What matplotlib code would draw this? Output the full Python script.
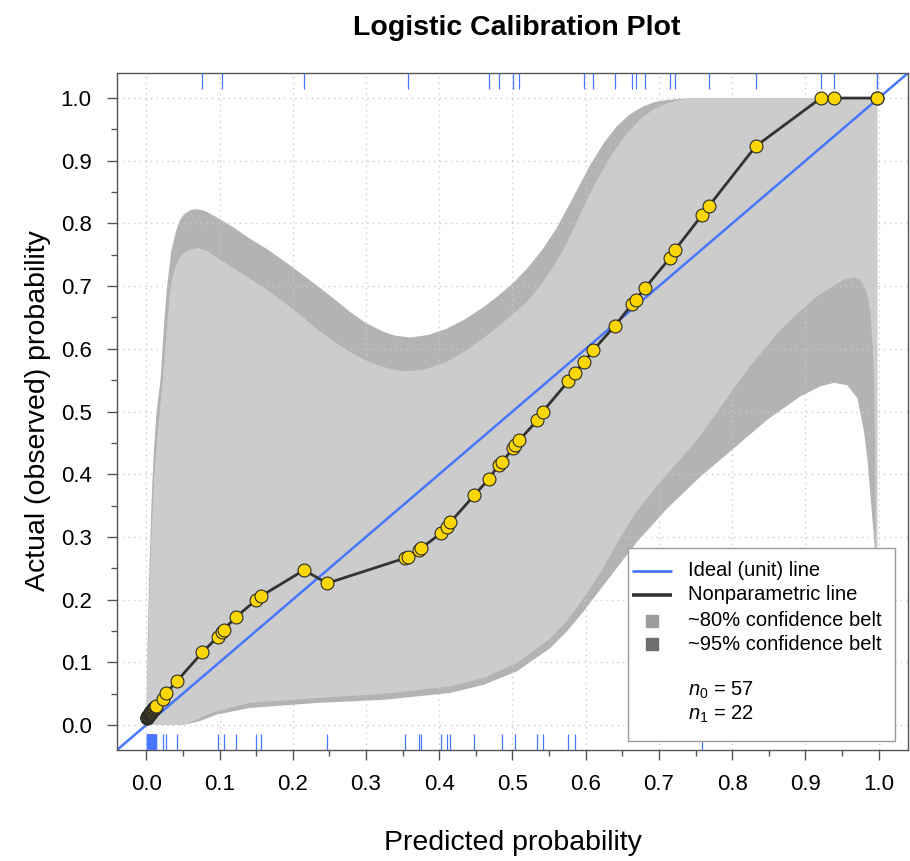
import numpy as np
import matplotlib
matplotlib.use('Agg')
import matplotlib.pyplot as plt
from matplotlib.patches import Rectangle
from matplotlib.ticker import FormatStrFormatter

plt.rcParams['font.family'] = ['Liberation Sans', 'DejaVu Sans']
plt.rcParams['mathtext.fontset'] = 'custom'
plt.rcParams['mathtext.rm'] = 'Liberation Sans'
plt.rcParams['mathtext.it'] = 'Liberation Sans:italic'

# ---------------- data ----------------
# predicted probabilities of the many near-zero non-events
pred_low = [0.0004, 0.0008, 0.0011, 0.0014, 0.0017, 0.0020, 0.0023, 0.0026, 0.0029, 0.0032,
            0.0035, 0.0038, 0.0041, 0.0044, 0.0047, 0.0050, 0.0054, 0.0058, 0.0062, 0.0066,
            0.0070, 0.0074, 0.0078, 0.0082, 0.0087, 0.0092, 0.0097, 0.0102, 0.0107, 0.0112,
            0.0117, 0.0122, 0.0128, 0.0134]
obs_low = [0.011, 0.0115, 0.012, 0.0125, 0.013, 0.0135, 0.014, 0.0145, 0.015, 0.0155,
           0.016, 0.0165, 0.017, 0.0175, 0.018, 0.0185, 0.019, 0.0195, 0.020, 0.021,
           0.0215, 0.022, 0.0225, 0.023, 0.024, 0.0245, 0.025, 0.026, 0.0265, 0.027,
           0.028, 0.0285, 0.029, 0.030]

# remaining observations: predicted probability and smoothed observed probability
pred_rest = [0.0227, 0.0275, 0.0415, 0.0765, 0.098, 0.1037, 0.1057, 0.122, 0.150, 0.156,
             0.2153, 0.247, 0.353, 0.357, 0.372, 0.375, 0.402, 0.410, 0.415, 0.448,
             0.468, 0.481, 0.485, 0.501, 0.503, 0.509, 0.534, 0.541, 0.576, 0.585,
             0.598, 0.610, 0.640, 0.663, 0.668, 0.681, 0.715, 0.722, 0.759, 0.768,
             0.832, 0.921, 0.939, 0.998, 0.998]
obs_rest = [0.042, 0.051, 0.0696, 0.1157, 0.141, 0.148, 0.152, 0.1715, 0.1995, 0.205,
            0.247, 0.226, 0.266, 0.2686, 0.279, 0.2815, 0.3057, 0.3163, 0.3232, 0.3667,
            0.393, 0.4145, 0.419, 0.441, 0.446, 0.454, 0.486, 0.4995, 0.548, 0.5616,
            0.579, 0.5976, 0.637, 0.671, 0.678, 0.697, 0.745, 0.758, 0.8137, 0.8275,
            0.923, 1.0, 1.0, 1.0, 1.0]

# outcomes (rugs): y = 0 and y = 1
rug_y0 = pred_low + [0.0227, 0.0275, 0.0415, 0.098, 0.1057, 0.122, 0.150, 0.156, 0.247,
                     0.353, 0.372, 0.375, 0.402, 0.410, 0.415, 0.448, 0.485, 0.503, 0.534,
                     0.541, 0.576, 0.585, 0.759]
rug_y1 = [0.0765, 0.1037, 0.2153, 0.357, 0.468, 0.481, 0.501, 0.509, 0.598, 0.610, 0.640,
          0.663, 0.668, 0.681, 0.715, 0.722, 0.768, 0.832, 0.921, 0.939, 0.998, 0.998]

# ~95% confidence belt
u95_x = [0.0, 0.001, 0.0025, 0.0045, 0.007, 0.010, 0.014, 0.0196, 0.024, 0.028, 0.034,
         0.040, 0.0456, 0.052, 0.060, 0.068, 0.080, 0.096, 0.120, 0.141, 0.165, 0.187,
         0.210, 0.233, 0.256, 0.278, 0.300, 0.324, 0.340, 0.360, 0.385, 0.410, 0.435,
         0.460, 0.480, 0.500, 0.520, 0.540, 0.560, 0.583, 0.606, 0.625, 0.6425, 0.660,
         0.679, 0.695, 0.711, 0.730, 0.750, 0.998]
u95_y = [0.0, 0.08, 0.17, 0.26, 0.35, 0.43, 0.50, 0.553, 0.635, 0.695, 0.755,
         0.785, 0.805, 0.815, 0.821, 0.823, 0.820, 0.810, 0.793, 0.776, 0.759, 0.741,
         0.721, 0.701, 0.680, 0.659, 0.641, 0.627, 0.621, 0.618, 0.622, 0.632, 0.647,
         0.666, 0.684, 0.704, 0.728, 0.757, 0.792, 0.842, 0.893, 0.929, 0.955, 0.974,
         0.987, 0.994, 0.997, 0.999, 1.0, 1.0]
l95_x = [0.0, 0.05, 0.073, 0.0958, 0.141, 0.2326, 0.324, 0.415, 0.4606, 0.506, 0.5517,
         0.575, 0.597, 0.633, 0.670, 0.711, 0.7565, 0.802, 0.848, 0.893, 0.920, 0.939,
         0.957, 0.971, 0.980, 0.985, 0.989, 0.992, 0.9945, 0.998]
l95_y = [0.0, 0.0, 0.006, 0.0164, 0.027, 0.035, 0.040, 0.051, 0.064, 0.0855, 0.1226,
         0.150, 0.181, 0.236, 0.292, 0.345, 0.396, 0.441, 0.487, 0.524, 0.540, 0.5457,
         0.542, 0.521, 0.468, 0.420, 0.361, 0.320, 0.287, 0.15]

# ~80% confidence belt
u80_x = [0.0, 0.002, 0.004, 0.007, 0.011, 0.016, 0.0228, 0.028, 0.032, 0.036, 0.041,
         0.048, 0.058, 0.0707, 0.083, 0.0958, 0.120, 0.1413, 0.165, 0.187, 0.210, 0.2326,
         0.256, 0.278, 0.300, 0.324, 0.340, 0.356, 0.380, 0.410, 0.435, 0.460, 0.480,
         0.500, 0.520, 0.5376, 0.555, 0.574, 0.597, 0.610, 0.624, 0.640, 0.656, 0.675,
         0.6926, 0.710, 0.7246, 0.740, 0.757, 0.998]
u80_y = [0.0, 0.10, 0.20, 0.30, 0.40, 0.47, 0.553, 0.63, 0.685, 0.715, 0.735,
         0.750, 0.758, 0.761, 0.756, 0.746, 0.728, 0.712, 0.694, 0.675, 0.654, 0.632,
         0.612, 0.595, 0.581, 0.571, 0.566, 0.564, 0.567, 0.579, 0.596, 0.617, 0.635,
         0.655, 0.675, 0.700, 0.730, 0.768, 0.826, 0.858, 0.887, 0.918, 0.943, 0.967,
         0.982, 0.991, 0.996, 0.999, 1.0, 1.0]
l80_x = [0.0, 0.05, 0.073, 0.0958, 0.141, 0.2326, 0.324, 0.415, 0.4606, 0.506, 0.5517,
         0.575, 0.597, 0.620, 0.642, 0.665, 0.688, 0.711, 0.734, 0.7565, 0.780, 0.802,
         0.825, 0.848, 0.870, 0.893, 0.915, 0.939, 0.953, 0.966, 0.974, 0.980, 0.985,
         0.989, 0.992, 0.9936, 0.995, 0.996, 0.998]
l80_y = [0.0, 0.0, 0.011, 0.0218, 0.035, 0.043, 0.0494, 0.0616, 0.0748, 0.0987, 0.138,
         0.167, 0.202, 0.243, 0.288, 0.333, 0.368, 0.400, 0.430, 0.462, 0.500, 0.537,
         0.573, 0.606, 0.635, 0.660, 0.683, 0.701, 0.710, 0.714, 0.710, 0.701, 0.684,
         0.653, 0.600, 0.547, 0.450, 0.293, 0.2]

n0_text = r"$n_0$ = 57"
n1_text = r"$n_1$ = 22"

# ---------------- figure ----------------
W, H = 910, 861
fig = plt.figure(figsize=(W / 100, H / 100), dpi=100)
L, R, T, B = 117, 908, 73, 750
ax = fig.add_axes([L / W, (H - B) / H, (R - L) / W, (B - T) / H])
ax.set_xlim(-0.04, 1.04)
ax.set_ylim(-0.04, 1.04)

col_light = '#cccccc'
col_dark = '#b3b3b3'
blue = '#4876FF'

ax.fill(np.concatenate([u95_x, l95_x[::-1]]), np.concatenate([u95_y, l95_y[::-1]]),
        color=col_dark, lw=0, zorder=0.2)
ax.fill(np.concatenate([u80_x, l80_x[::-1]]), np.concatenate([u80_y, l80_y[::-1]]),
        color=col_light, lw=0, zorder=0.3)

# grid
ax.set_axisbelow(True)
ax.grid(True, which='major', color='#cbcbcb', linestyle=(0, (1, 3)), lw=1.0)

# ideal line
ax.axline((0, 0), (1, 1), color=blue, lw=1.8, zorder=2)

# nonparametric line with points
cx = pred_low + pred_rest
cy = obs_low + obs_rest
ax.plot(cx, cy, color='#333333', lw=2.0, zorder=3)
ax.plot(cx, cy, linestyle='none', marker='o', markersize=9.3, markerfacecolor='#FFD700',
        markeredgecolor='#2a2a2a', markeredgewidth=0.8, zorder=4)

# rugs
trans = ax.get_xaxis_transform()
rug_len = 16 / (B - T)
ax.vlines(rug_y0, 0, rug_len, transform=trans, color=blue, lw=0.9, zorder=5)
ax.vlines(rug_y1, 1 - rug_len, 1, transform=trans, color=blue, lw=0.9, zorder=5)

# axes styling
for s in ax.spines.values():
    s.set_color('#555555')
    s.set_linewidth(1.0)
ax.set_xticks([t / 10 for t in range(11)])
ax.set_yticks([t / 10 for t in range(11)])
ax.set_xticks([t / 20 for t in range(21)], minor=True)
ax.set_yticks([t / 20 for t in range(21)], minor=True)
ax.xaxis.set_major_formatter(FormatStrFormatter('%.1f'))
ax.yaxis.set_major_formatter(FormatStrFormatter('%.1f'))
ax.tick_params(which='major', length=7.2, width=1.0, color='#555555', labelsize=16, labelcolor='black')
ax.tick_params(which='minor', length=4.0, width=1.0, color='#555555')
ax.tick_params(axis='x', which='major', pad=10)
ax.tick_params(axis='y', which='major', pad=11)

ax.set_xlabel('Predicted probability', fontsize=20.5)
ax.set_ylabel('Actual (observed) probability', fontsize=20.5)
ax.xaxis.set_label_coords(0.5, (B - 830) / (B - T), transform=ax.transAxes)
ax.xaxis.label.set_va('top')
ax.yaxis.set_label_coords((51 - L) / (R - L), 0.502)

fig.text(517 / W, 1 - 28 / H, 'Logistic Calibration Plot', ha='center', va='center',
         fontsize=20.5, fontweight='bold')

# legend (manual)
def ax_xy(px, py):
    return (px - L) / (R - L), (B - py) / (B - T)

x0, y0 = ax_xy(628, 741)
x1, y1 = ax_xy(895, 548)
ax.add_patch(Rectangle((x0, y0), x1 - x0, y1 - y0, transform=ax.transAxes,
                       facecolor='white', edgecolor='#9a9a9a', lw=1.0, zorder=10))
hx0, _ = ax_xy(632, 0)
hx1, _ = ax_xy(672, 0)
hxm, _ = ax_xy(652, 0)
tx, _ = ax_xy(688, 0)
rows = [571, 595, 621, 644]
leg_labels = ['Ideal (unit) line', 'Nonparametric line', '~80% confidence belt', '~95% confidence belt']
_, ry = ax_xy(0, rows[0])
ax.plot([hx0, hx1], [ry, ry], transform=ax.transAxes, color=blue, lw=2.0, zorder=11,
        solid_capstyle='butt')
_, ry = ax_xy(0, rows[1])
ax.plot([hx0, hx1], [ry, ry], transform=ax.transAxes, color='#333333', lw=2.6, zorder=11,
        solid_capstyle='butt')
_, ry = ax_xy(0, rows[2])
ax.plot([hxm], [ry], transform=ax.transAxes, marker='s', markersize=9.2, color='#9c9c9c',
        lw=0, zorder=11)
_, ry = ax_xy(0, rows[3])
ax.plot([hxm], [ry], transform=ax.transAxes, marker='s', markersize=9.2, color='#6e6e6e',
        lw=0, zorder=11)
for py, lab in zip(rows, leg_labels):
    _, ry = ax_xy(0, py)
    ax.text(tx, ry, lab, transform=ax.transAxes, fontsize=14.5, va='center', ha='left', zorder=12)
for py, lab in zip([690, 714], [n0_text, n1_text]):
    _, ry = ax_xy(0, py)
    ax.text(tx, ry, lab, transform=ax.transAxes, fontsize=14.5, va='center', ha='left', zorder=12)

fig.savefig('out.png', dpi=100)
